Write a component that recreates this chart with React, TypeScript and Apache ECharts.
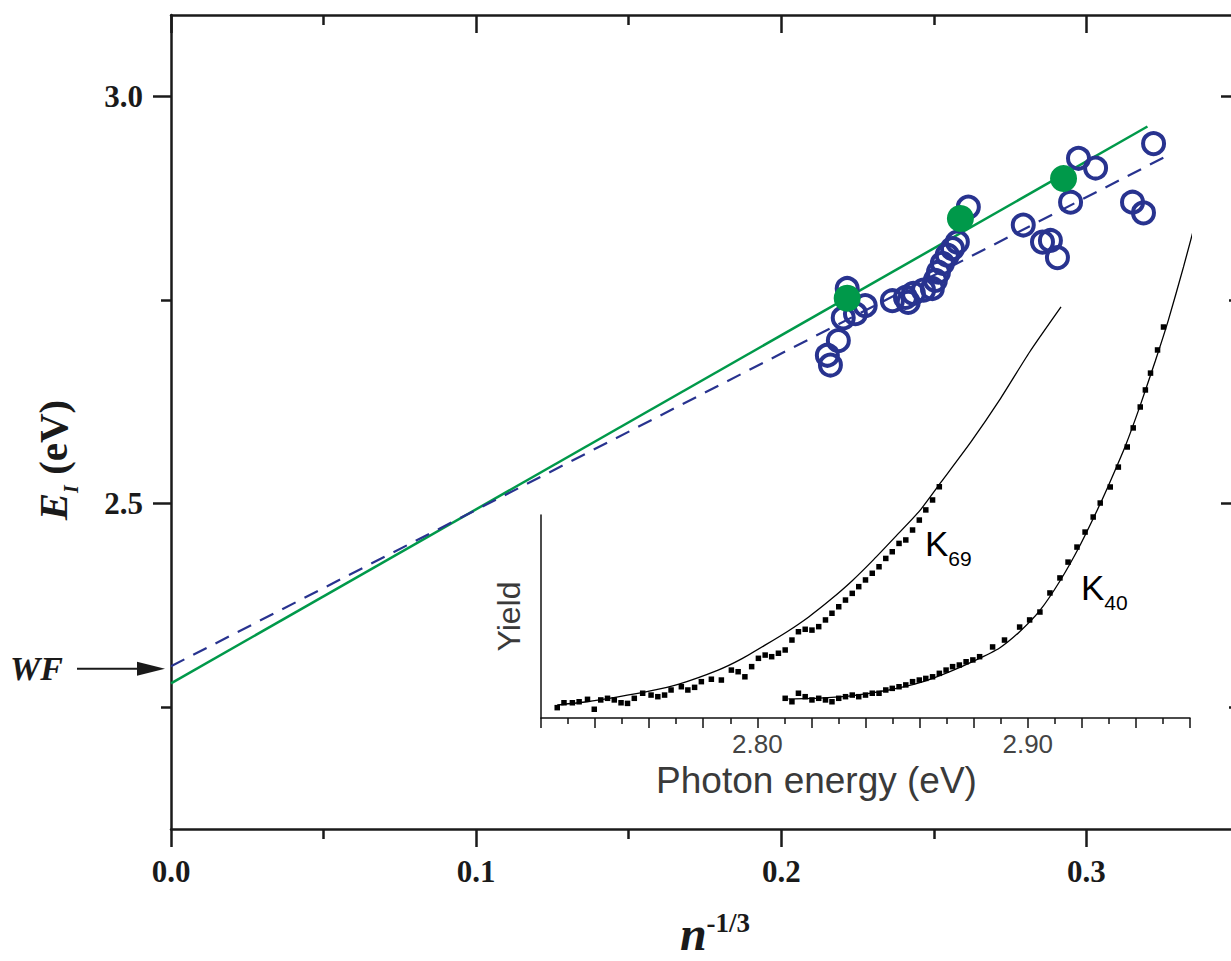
import React, { useEffect, useRef } from 'react';
import * as echarts from 'echarts';

// ---------- Main chart data ----------
const xMajorTicks = [0, 0.1, 0.2, 0.3];
const xMinorTicks = [0.05, 0.15, 0.25];
const yMajorTicks = [2.5, 3.0];
const yMinorTicks = [2.25, 2.75];

// open blue circles: [n^-1/3, E_I (eV)]
const openCircles: [number, number][] = [
  [0.2613, 2.864], [0.2587, 2.850], [0.2577, 2.821], [0.2561, 2.813], [0.2544, 2.805],
  [0.2528, 2.795], [0.2515, 2.784], [0.2505, 2.774], [0.2495, 2.764], [0.2466, 2.762],
  [0.2433, 2.758], [0.2407, 2.753], [0.2364, 2.749], [0.2416, 2.747], [0.2216, 2.764],
  [0.2275, 2.743], [0.2243, 2.733], [0.2203, 2.728], [0.2187, 2.700], [0.2151, 2.682],
  [0.2161, 2.670], [0.2974, 2.924], [0.3030, 2.912], [0.3220, 2.942], [0.2948, 2.870],
  [0.3151, 2.870], [0.3187, 2.857], [0.2793, 2.842], [0.2856, 2.821], [0.2882, 2.823],
  [0.2905, 2.802],
];
// filled green circles
const filledCircles: [number, number][] = [
  [0.2216, 2.752], [0.2587, 2.850], [0.2925, 2.899],
];
const greenFit: [number, number][] = [[0, 2.279], [0.320, 2.963]];
const blueFit: [number, number][] = [[0, 2.300], [0.328, 2.930]];
const WF = 2.297;

// ---------- Inset data ----------
const insetLabelTicks = [2.8, 2.9];
const k69Data: [number, number][] = [
  [2.7260, 0.51], [2.7285, 0.75], [2.7316, 0.75], [2.7341, 0.80], [2.7372, 0.92],
  [2.7397, 0.43], [2.7421, 0.89], [2.7446, 0.97], [2.7471, 0.89], [2.7496, 0.75],
  [2.7520, 0.72], [2.7545, 0.97], [2.7576, 1.22], [2.7607, 1.13], [2.7632, 1.05],
  [2.7657, 1.13], [2.7681, 1.38], [2.7719, 1.54], [2.7743, 1.38], [2.7768, 1.51],
  [2.7793, 1.79], [2.7830, 1.91], [2.7867, 1.87], [2.7904, 2.36], [2.7929, 2.28],
  [2.7954, 2.03], [2.7979, 2.53], [2.8004, 2.94], [2.8029, 3.10], [2.8053, 3.02],
  [2.8078, 3.19], [2.8103, 3.35], [2.8128, 3.84], [2.8152, 4.25], [2.8177, 4.37],
  [2.8202, 4.33], [2.8227, 4.50], [2.8252, 4.83], [2.8276, 5.16], [2.8301, 5.48],
  [2.8326, 5.81], [2.8351, 6.14], [2.8375, 6.47], [2.8400, 6.80], [2.8425, 7.13],
  [2.8450, 7.45], [2.8475, 7.86], [2.8499, 8.19], [2.8524, 8.60], [2.8549, 8.77],
  [2.8574, 9.26], [2.8599, 9.75], [2.8623, 10.25], [2.8648, 10.74], [2.8673, 11.39],
];
const k69Fit: [number, number][] = [
  [2.726, 0.64], [2.737, 0.80], [2.748, 1.03], [2.760, 1.32], [2.771, 1.67],
  [2.7855, 2.36], [2.794, 2.90], [2.803, 3.60], [2.811, 4.25], [2.819, 4.98],
  [2.827, 5.82], [2.835, 6.75], [2.843, 7.80], [2.851, 8.92], [2.860, 10.20],
  [2.868, 11.63], [2.879, 13.60], [2.8896, 15.67], [2.9007, 18.03], [2.9123, 20.25],
];
const k40Data: [number, number][] = [
  [2.8103, 0.97], [2.8128, 0.80], [2.8152, 1.22], [2.8177, 1.05], [2.8202, 0.89],
  [2.8227, 0.97], [2.8252, 0.89], [2.8276, 0.80], [2.8301, 0.97], [2.8326, 1.05],
  [2.8351, 1.13], [2.8375, 1.05], [2.8400, 1.13], [2.8425, 1.22], [2.8450, 1.22],
  [2.8475, 1.38], [2.8499, 1.46], [2.8524, 1.54], [2.8549, 1.63], [2.8574, 1.79],
  [2.8599, 1.87], [2.8623, 1.95], [2.8648, 2.03], [2.8673, 2.20], [2.8698, 2.36],
  [2.8722, 2.53], [2.8747, 2.61], [2.8772, 2.77], [2.8797, 2.86], [2.8822, 3.02],
  [2.8870, 3.50], [2.8914, 3.84], [2.8970, 4.48], [2.9007, 4.83], [2.9045, 5.22],
  [2.9082, 6.16], [2.9119, 6.90], [2.9149, 7.68], [2.9182, 8.42], [2.9212, 9.16],
  [2.9242, 9.90], [2.9268, 10.59], [2.9305, 11.38], [2.9335, 12.36], [2.9368, 13.35],
  [2.9390, 14.29], [2.9416, 15.32], [2.9435, 16.16], [2.9454, 16.99], [2.9480, 18.13],
  [2.9502, 19.26],
];
const k40Fit: [number, number][] = [
  [2.8115, 0.94], [2.8230, 0.98], [2.8338, 1.08], [2.8430, 1.25], [2.8524, 1.48],
  [2.8620, 1.82], [2.8710, 2.27], [2.8800, 2.80], [2.8896, 3.45], [2.8970, 4.25],
  [2.9045, 5.30], [2.9119, 6.75], [2.9193, 8.50], [2.9268, 10.55], [2.9305, 11.65],
  [2.9361, 13.40], [2.9416, 15.40], [2.9472, 17.60], [2.9520, 19.60], [2.9576, 22.22],
  [2.9632, 25.02],
];

const AXIS = '#1a1a1a';
const SERIF = '"Liberation Serif", "Times New Roman", serif';
const SANS = '"Liberation Sans", Arial, sans-serif';
const BLUE = '#28338f';
const GREEN = '#00994a';

export default function App() {
  const ref = useRef<HTMLDivElement>(null);
  useEffect(() => {
    if (!ref.current) return;
    const chart = echarts.init(ref.current, undefined, { renderer: 'svg' });

    const mainX = (position: 'bottom' | 'top', minor: boolean) => ({
      type: 'value', gridIndex: 0, position, min: 0, max: 0.35, offset: 0,
      axisLine: { show: !minor, onZero: false, lineStyle: { color: AXIS, width: 2.5 } },
      axisTick: {
        show: true, inside: position === 'top', length: minor ? 10 : 18,
        customValues: minor ? xMinorTicks : xMajorTicks,
        lineStyle: { color: AXIS, width: 2.5 },
      },
      axisLabel: position === 'bottom' && !minor ? {
        show: true, customValues: xMajorTicks, formatter: (v: number) => v.toFixed(1),
        fontFamily: SERIF, fontWeight: 'bold', fontSize: 31, color: AXIS, margin: 27,
      } : { show: false },
      splitLine: { show: false },
      ...(position === 'bottom' && !minor ? {
        name: '{n|n}{s|-1/3}', nameLocation: 'middle', nameGap: 80,
        nameTextStyle: {
          padding: [0, 0, 0, 20],
          rich: {
            n: { fontFamily: SERIF, fontStyle: 'italic', fontWeight: 'bold', fontSize: 48, lineHeight: 48, color: AXIS },
            s: { fontFamily: SERIF, fontWeight: 'bold', fontSize: 27, color: AXIS, verticalAlign: 'top' },
          },
        },
      } : {}),
    });
    const mainY = (position: 'left' | 'right', minor: boolean) => ({
      type: 'value', gridIndex: 0, position, min: 2.1, max: 3.1, offset: 0,
      axisLine: { show: !minor, onZero: false, lineStyle: { color: AXIS, width: 2.5 } },
      axisTick: {
        show: true, inside: position === 'right', length: minor ? 10 : 18,
        customValues: minor ? yMinorTicks : yMajorTicks,
        lineStyle: { color: AXIS, width: 2.5 },
      },
      axisLabel: position === 'left' && !minor ? {
        show: true, customValues: yMajorTicks, formatter: (v: number) => v.toFixed(1),
        fontFamily: SERIF, fontWeight: 'bold', fontSize: 31, color: AXIS, margin: 28,
      } : { show: false },
      splitLine: { show: false },
      ...(position === 'left' && !minor ? {
        name: '{e|E}{i|I}{t| (eV)}', nameLocation: 'middle', nameGap: 90, nameRotate: 90,
        nameTextStyle: {
          padding: [0, 76, 0, 0],
          rich: {
            e: { fontFamily: SERIF, fontStyle: 'italic', fontWeight: 'bold', fontSize: 41, color: AXIS, padding: [0, 0, 8, 0] },
            i: { fontFamily: SERIF, fontStyle: 'italic', fontWeight: 'bold', fontSize: 20, color: AXIS, verticalAlign: 'bottom' },
            t: { fontFamily: SERIF, fontWeight: 'bold', fontSize: 41, color: AXIS, padding: [0, 0, 8, 0] },
          },
        },
      } : {}),
    });

    const option: any = {
      animation: false,
      backgroundColor: '#ffffff',
      grid: [
        { left: 171, top: 15, width: 1068, height: 814, containLabel: false, outerBoundsMode: 'none' },
        { left: 541, top: 515, width: 649, height: 203, containLabel: false, outerBoundsMode: 'none' },
      ],
      xAxis: [
        mainX('bottom', false),
        mainX('bottom', true),
        mainX('top', false),
        mainX('top', true),
        {
          type: 'value', gridIndex: 1, position: 'bottom', min: 2.72, max: 2.96, interval: 0.02,
          axisLine: { show: true, onZero: false, lineStyle: { color: '#111', width: 1.5 } },
          axisTick: { show: true, length: 10, lineStyle: { color: '#111', width: 1.5 } },
          minorTick: { show: true, splitNumber: 2, length: 6, lineStyle: { color: '#111', width: 1.5 } },
          axisLabel: {
            show: true, customValues: insetLabelTicks, formatter: (v: number) => v.toFixed(2),
            fontFamily: SANS, fontSize: 26, color: '#444', margin: 13,
          },
          splitLine: { show: false },
          name: 'Photon energy (eV)', nameLocation: 'middle', nameGap: 44,
          nameTextStyle: { fontFamily: SANS, fontSize: 37, color: '#3a3a3a', padding: [0, 98, 0, 0] },
        },
      ],
      yAxis: [
        mainY('left', false),
        mainY('left', true),
        mainY('right', false),
        mainY('right', true),
        {
          type: 'value', gridIndex: 1, position: 'left', min: 0, max: 10,
          axisLine: { show: true, onZero: false, lineStyle: { color: '#111', width: 1.5 } },
          axisTick: { show: false }, axisLabel: { show: false }, splitLine: { show: false },
          name: 'Yield', nameLocation: 'middle', nameGap: 16, nameRotate: 90,
          nameTextStyle: { fontFamily: SANS, fontSize: 32, color: '#3a3a3a' },
        },
      ],
      series: [
        {
          type: 'line', xAxisIndex: 0, yAxisIndex: 0, data: greenFit, showSymbol: false,
          lineStyle: { color: GREEN, width: 2.5 }, z: 2,
        },
        {
          type: 'line', xAxisIndex: 0, yAxisIndex: 0, data: blueFit, showSymbol: false,
          lineStyle: { color: BLUE, width: 2.2, type: [15, 10] }, z: 2,
        },
        {
          type: 'scatter', xAxisIndex: 0, yAxisIndex: 0, data: openCircles, symbol: 'circle', symbolSize: 21,
          itemStyle: { color: 'rgba(0,0,0,0)', borderColor: BLUE, borderWidth: 4, opacity: 1 }, z: 3,
        },
        {
          type: 'scatter', xAxisIndex: 0, yAxisIndex: 0, data: filledCircles, symbol: 'circle', symbolSize: 27,
          itemStyle: { color: GREEN, opacity: 1 }, z: 4,
        },
        {
          type: 'line', xAxisIndex: 4, yAxisIndex: 4, data: k69Fit, showSymbol: false, smooth: 0.2, clip: false,
          lineStyle: { color: '#000', width: 1.3 }, z: 3,
        },
        {
          type: 'line', xAxisIndex: 4, yAxisIndex: 4, data: k40Fit, showSymbol: false, smooth: 0.2, clip: false,
          lineStyle: { color: '#000', width: 1.3 }, z: 3,
        },
        {
          type: 'scatter', xAxisIndex: 4, yAxisIndex: 4, data: k69Data, symbol: 'rect', symbolSize: 5.5, clip: false,
          itemStyle: { color: '#000', opacity: 1 }, z: 4,
        },
        {
          type: 'scatter', xAxisIndex: 4, yAxisIndex: 4, data: k40Data, symbol: 'rect', symbolSize: 5.5, clip: false,
          itemStyle: { color: '#000', opacity: 1 }, z: 4,
        },
      ],
    };
    chart.setOption(option);

    const p = chart.convertToPixel({ xAxisIndex: 0, yAxisIndex: 0 }, [0, WF]) as number[];
    const px = p[0], py = p[1];
    const kRich = {
      k: { fontFamily: SANS, fontSize: 35, color: '#3a3a3a', padding: [0, 0, 8, 0] },
      s: { fontFamily: SANS, fontSize: 21, color: '#3a3a3a', verticalAlign: 'bottom' },
    };
    chart.setOption({
      graphic: [
        { type: 'line', shape: { x1: px - 94, y1: py, x2: px - 28, y2: py }, style: { stroke: AXIS, lineWidth: 2 }, z: 10 },
        { type: 'polygon', shape: { points: [[px - 34, py - 7], [px - 6, py], [px - 34, py + 7]] }, style: { fill: AXIS }, z: 10 },
        {
          type: 'text', x: px - 108, y: py, z: 10,
          style: { text: 'WF', fontFamily: SERIF, fontStyle: 'italic', fontWeight: 'bold', fontSize: 34, fill: AXIS, align: 'right', verticalAlign: 'middle' },
        },
        { type: 'text', x: 925, y: 526, z: 10, style: { text: '{k|K}{s|69}', rich: kRich } },
        { type: 'text', x: 1081, y: 570, z: 10, style: { text: '{k|K}{s|40}', rich: kRich } },
      ],
    });

    return () => chart.dispose();
  }, []);
  return (
    <div
      ref={ref}
      style={{ position: 'absolute', left: 0, top: 0, width: 1231, height: 961, background: '#fff' }}
    />
  );
}
